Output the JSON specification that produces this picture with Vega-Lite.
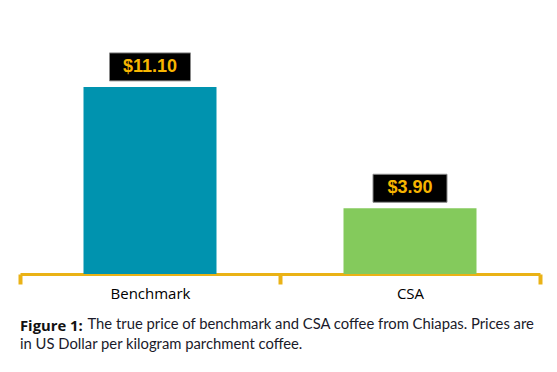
{
  "$schema": "https://vega.github.io/schema/vega-lite/v6.json",
  "autosize": {"type": "none"},
  "padding": {"left": 20, "top": 38, "right": 17, "bottom": 98},
  "width": 520,
  "height": 236,
  "background": "white",
  "config": {"view": {"stroke": null}},
  "title": {
    "text": "Figure 1:",
    "subtitle": "in US Dollar per kilogram parchment coffee.",
    "orient": "bottom",
    "anchor": "start",
    "frame": "group",
    "font": "Open Sans",
    "fontSize": 14.8,
    "fontWeight": "bold",
    "color": "#111111",
    "subtitleFont": "Lato",
    "subtitleFontSize": 14.8,
    "subtitleColor": "#1a1a2a",
    "subtitlePadding": 3,
    "offset": -12
  },
  "data": {
    "values": [
      {"type": "Benchmark", "price": 11.10, "label": "$11.10"},
      {"type": "CSA", "price": 3.90, "label": "$3.90"}
    ]
  },
  "encoding": {
    "x": {
      "field": "type",
      "type": "nominal",
      "sort": null,
      "scale": {"paddingInner": 0, "paddingOuter": 0},
      "axis": {
        "title": "The true price of benchmark and CSA coffee from Chiapas. Prices are",
        "titleFont": "Lato",
        "titleFontSize": 14.8,
        "titleFontWeight": "normal",
        "titleColor": "#1a1a2a",
        "titleX": 67,
        "titleY": 54,
        "titleAlign": "left",
        "titleAnchor": null,
        "titleBaseline": "alphabetic",
        "labelAngle": 0,
        "tickBand": "extent",
        "domainColor": "#EAB216",
        "domainWidth": 3,
        "tickColor": "#EAB216",
        "tickWidth": 4,
        "tickSize": 10,
        "labelFont": "Open Sans",
        "labelFontSize": 15,
        "labelColor": "#000000",
        "labelPadding": 2
      }
    },
    "y": {
      "field": "price",
      "type": "quantitative",
      "scale": {"domain": [0, 14], "nice": false},
      "axis": null
    }
  },
  "layer": [
    {
      "mark": {"type": "bar", "width": 133},
      "encoding": {
        "color": {
          "field": "type",
          "type": "nominal",
          "scale": {"domain": ["Benchmark", "CSA"], "range": ["#0093AF", "#84CA5C"]},
          "legend": null
        }
      }
    },
    {
      "mark": {"type": "bar", "fill": "#000000", "stroke": "#8a8a8a", "strokeWidth": 1, "yOffset": -34, "y2Offset": -6, "clip": false},
      "encoding": {
        "y2": {"field": "price"},
        "size": {"condition": {"test": "datum.price > 10", "value": 81}, "value": 74}
      }
    },
    {
      "mark": {"type": "text", "font": "Liberation Sans", "fontSize": 18, "fontWeight": "bold", "color": "#F7B500", "baseline": "middle", "align": "center", "dy": -20},
      "encoding": {"text": {"field": "label"}}
    }
  ]
}
